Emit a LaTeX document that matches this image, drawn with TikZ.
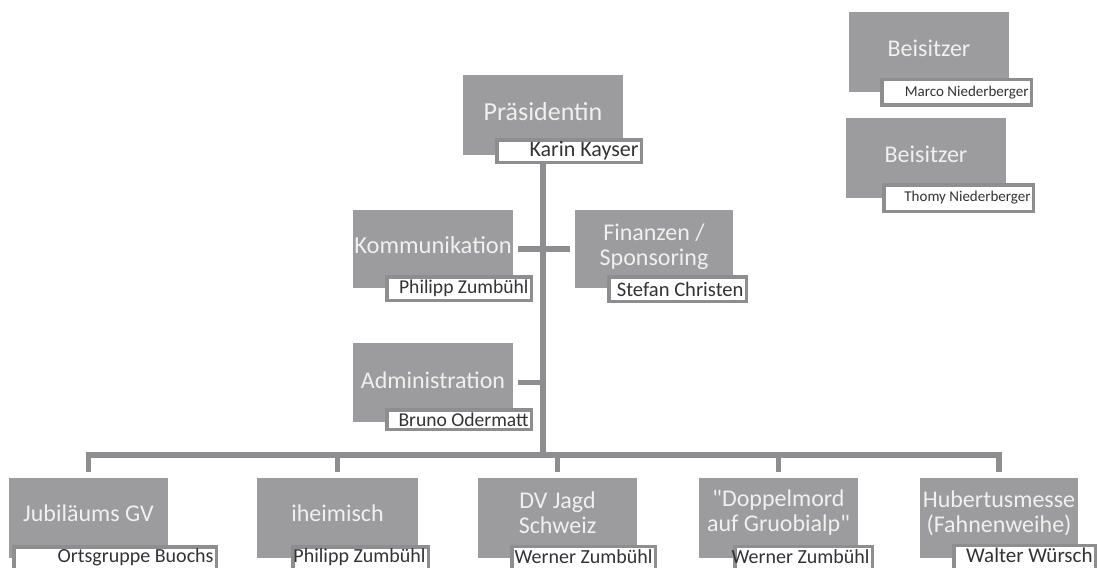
\documentclass[tikz,border=0pt]{standalone}
\usepackage{fontspec}
\setmainfont{Carlito}[Ligatures=TeXOff]
\usetikzlibrary{backgrounds}
\definecolor{boxgray}{HTML}{9C9C9E}
\definecolor{linegray}{HTML}{8E8E90}
\definecolor{titlecol}{HTML}{F0F0F0}
\definecolor{namecol}{HTML}{333333}
\begin{document}
\begin{tikzpicture}[x=1pt,y=-1pt,
  graybox/.style 2 args={fill=boxgray, draw=none, minimum width=#1, minimum height=#2, inner sep=0pt, outer sep=0pt},
  namebox/.style 2 args={fill=white, draw=linegray, line width=3.5pt, minimum width=#1, minimum height=#2, inner sep=0pt, outer sep=0pt},
  title/.style={text=titlecol, font=\fontsize{24}{25}\selectfont, align=center, inner sep=0pt, yshift=3.5pt},
  btitle/.style={title, yshift=1.5pt},
  nametext/.style={anchor=east, text=namecol, font=\fontsize{20}{22}\selectfont, inner sep=0pt, xshift=-2.5pt},
  bname/.style={nametext, yshift=3pt},
  smallname/.style={nametext, font=\fontsize{15}{17}\selectfont},
  conn/.style={draw=linegray, line width=5.5pt}
]
\useasboundingbox (0,0) rectangle (1099,567);
\clip (0,0) rectangle (1099,567);

% top
\node[graybox={160pt}{80pt}, label={[title, font=\fontsize{26}{27}\selectfont]center:Präsidentin}] (praes) at (543,115) {};
\node[namebox={144.5pt}{22.5pt}, label={[nametext, font=\fontsize{22}{24}\selectfont]east:Karin Kayser}] (praesN) at (569,151) {};

\node[graybox={160pt}{78pt}, label={[title, font=\fontsize{24.5}{26}\selectfont]center:Kommunikation}] (komm) at (433,249) {};
\node[namebox={144.5pt}{23.5pt}, label={[nametext, font=\fontsize{19.6}{21}\selectfont]east:Philipp Zumbühl}] (kommN) at (459,288.5) {};

\node[graybox={158pt}{78pt}, label={[title, yshift=-1.5pt]center:{Finanzen /\\Sponsoring}}] (fin) at (654,249) {};
\node[namebox={137.5pt}{24.5pt}, label={[nametext, font=\fontsize{20.6}{22}\selectfont]east:Stefan Christen}] (finN) at (677.5,289) {};

\node[graybox={160pt}{79pt}, label={[title, yshift=-1pt]center:Administration}] (admin) at (433,382.5) {};
\node[namebox={144.5pt}{19.5pt}, label={[nametext, font=\fontsize{19.6}{21}\selectfont]east:Bruno Odermatt}] (adminN) at (459,419.5) {};

% Beisitzer
\node[graybox={160pt}{80pt}, label={[title]center:Beisitzer}] (beis1) at (929,52) {};
\node[namebox={149.5pt}{25.5pt}, label={[smallname]east:Marco Niederberger}] (beis1N) at (956.5,92.5) {};
\node[graybox={160pt}{80pt}, label={[title]center:Beisitzer}] (beis2) at (926,158) {};
\node[namebox={149.5pt}{26.5pt}, label={[smallname]east:Thomy Niederberger}] (beis2N) at (958.5,198) {};

% bottom row
\node[graybox={159pt}{80pt}, label={[btitle]center:Jubiläums GV}] (jub) at (88.5,518) {};
\node[namebox={202.5pt}{26.5pt}, label={[bname]east:Ortsgruppe Buochs}] (jubN) at (115,560) {};

\node[graybox={161pt}{80pt}, label={[btitle]center:iheimisch}] (ihe) at (337.5,518) {};
\node[namebox={135.5pt}{26.5pt}, label={[bname]east:Philipp Zumbühl}] (iheN) at (360.5,560) {};

\node[graybox={159pt}{80pt}, label={[btitle]center:{DV Jagd\\Schweiz}}] (dv) at (557.5,518) {};
\node[namebox={143.5pt}{26.5pt}, label={[bname]east:Werner Zumbühl}] (dvN) at (583.5,559.5) {};

\node[graybox={159pt}{80pt}, label={[btitle]center:{"Doppelmord\\auf Gruobialp"}}] (dop) at (778.5,518) {};
\node[namebox={137.5pt}{26.5pt}, label={[bname]east:Werner Zumbühl}] (dopN) at (803.5,559.5) {};

\node[graybox={158pt}{80pt}, label={[btitle]center:{Hubertusmesse\\(Fahnenweihe)}}] (hub) at (999,518) {};
\node[namebox={141.5pt}{26.5pt}, label={[bname, font=\fontsize{21}{23}\selectfont]east:Walter Würsch}] (hubN) at (1024.5,558.5) {};

\coordinate (bus) at (543,455);

\begin{scope}[on background layer]
  \draw[conn] (praesN.south -| praes.center) -- (bus);
  \draw[conn, shorten <=5pt, shorten >=5pt] (komm.east) -- (fin.west);
  \draw[conn, shorten <=5pt] (admin.east) -- (admin.east -| bus);
  \draw[conn] ([yshift=6pt]jub.north) -- (jub.north |- bus) -- (hub.north |- bus) -- ([yshift=6pt]hub.north);
  \draw[conn] (ihe.north |- bus) -- ([yshift=6pt]ihe.north);
  \draw[conn] (dv.north |- bus) -- ([yshift=6pt]dv.north);
  \draw[conn] (dop.north |- bus) -- ([yshift=6pt]dop.north);
\end{scope}
\end{tikzpicture}
\end{document}
